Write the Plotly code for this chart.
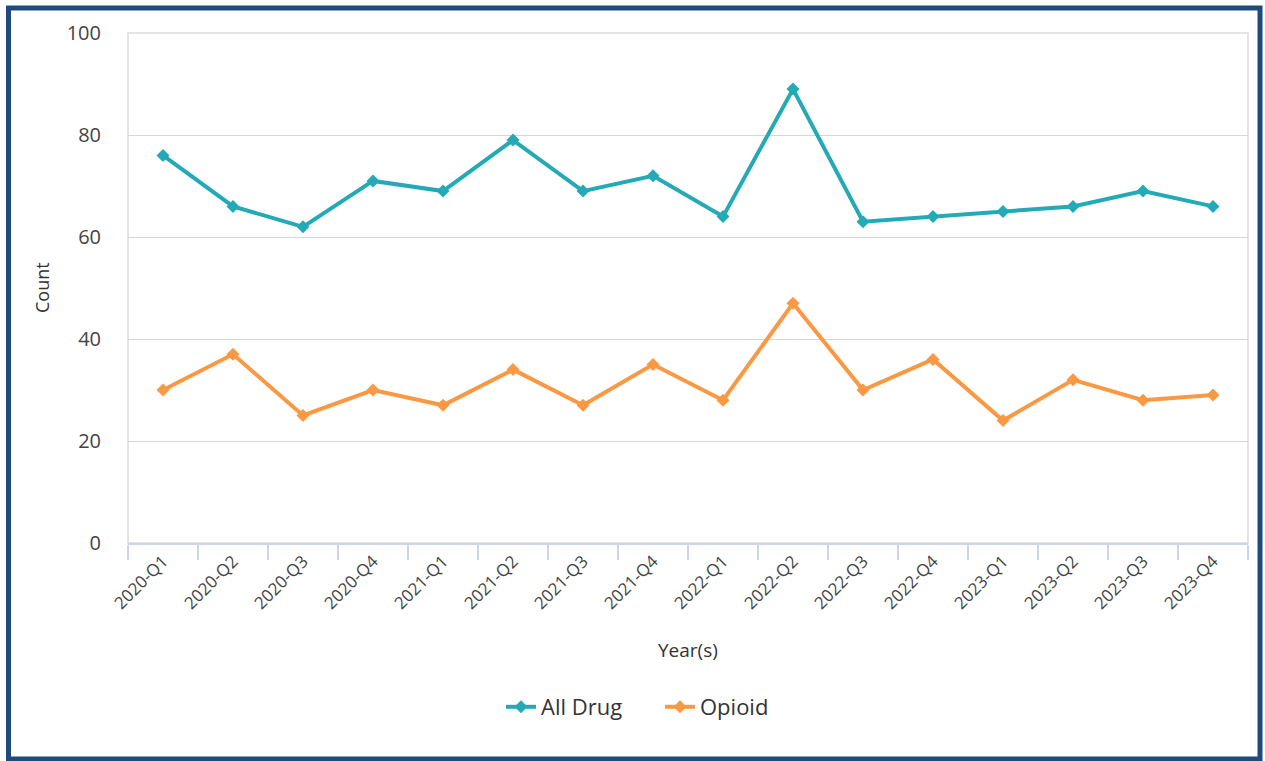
import plotly.graph_objects as go

# Quarterly counts
quarters = [
    "2020-Q1", "2020-Q2", "2020-Q3", "2020-Q4",
    "2021-Q1", "2021-Q2", "2021-Q3", "2021-Q4",
    "2022-Q1", "2022-Q2", "2022-Q3", "2022-Q4",
    "2023-Q1", "2023-Q2", "2023-Q3", "2023-Q4",
]
all_drug = [76, 66, 62, 71, 69, 79, 69, 72, 64, 89, 63, 64, 65, 66, 69, 66]
opioid = [30, 37, 25, 30, 27, 34, 27, 35, 28, 47, 30, 36, 24, 32, 28, 29]

y_ticks = [0, 20, 40, 60, 80, 100]

TEAL = "#23aab6"
ORANGE = "#fa9843"
FONT = "Open Sans, Noto Sans, sans-serif"

W, H = 1265, 761
L, R, T, B = 128, 17, 33, 218
PW, PH = W - L - R, H - T - B


def px_x(p):
    return (p - L) / PW


def px_y(p):
    return (H - B - p) / PH


fig = go.Figure()
fig.add_trace(go.Scatter(
    x=quarters, y=all_drug, name="All Drug", mode="lines+markers",
    line=dict(color=TEAL, width=4),
    marker=dict(symbol="diamond", size=10, color=TEAL),
))
fig.add_trace(go.Scatter(
    x=quarters, y=opioid, name="Opioid", mode="lines+markers",
    line=dict(color=ORANGE, width=4),
    marker=dict(symbol="diamond", size=10, color=ORANGE),
))

fig.update_layout(
    width=W, height=H,
    margin=dict(l=L, r=R, t=T, b=B),
    paper_bgcolor="white", plot_bgcolor="white",
    font=dict(family=FONT, color="#333333"),
    showlegend=True,
    legend=dict(
        orientation="h", x=px_x(501), y=px_y(707),
        xanchor="left", yanchor="middle",
        font=dict(size=22, color="#333333"),
        itemwidth=30, tracegroupgap=0, entrywidth=114,
    ),
    xaxis=dict(
        type="category", categoryorder="array", categoryarray=quarters,
        tickson="boundaries", ticks="outside", ticklen=15, tickwidth=1.5,
        tickcolor="#ccd6eb", showline=True, linecolor="#ccd6eb", linewidth=1.5,
        showgrid=False, tickangle=-45,
        tickfont=dict(size=17, color="#444444"),
        range=[-0.5, len(quarters) - 0.5],
        fixedrange=True,
    ),
    yaxis=dict(
        range=[0, 100], tickvals=y_ticks, showgrid=True,
        gridcolor="#d6d6d6", gridwidth=1.2, zeroline=False,
        showline=False, ticks="", ticklabelstandoff=26,
        tickfont=dict(size=20, color="#444444"),
        fixedrange=True,
    ),
    shapes=[
        # light frame around the plotting area
        dict(type="rect", xref="x domain", yref="y domain", x0=0, x1=1, y0=0, y1=1,
             line=dict(color="#dcdcdc", width=1.5), layer="below"),
        # dark outer border of the panel
        dict(type="rect", xref="paper", yref="paper",
             x0=px_x(8.5), x1=px_x(1260), y0=px_y(759), y1=px_y(8),
             line=dict(color="#1f4a7c", width=5)),
    ],
    annotations=[
        dict(text="Count", xref="paper", yref="paper", x=px_x(42), y=px_y(288),
             showarrow=False, textangle=-90, font=dict(size=18, color="#333333"),
             xanchor="center", yanchor="middle"),
        dict(text="Year(s)", xref="paper", yref="paper", x=px_x(688), y=px_y(650),
             showarrow=False, font=dict(size=19, color="#333333"),
             xanchor="center", yanchor="middle"),
    ],
)

fig.write_html("out.html", config={"displayModeBar": False})
